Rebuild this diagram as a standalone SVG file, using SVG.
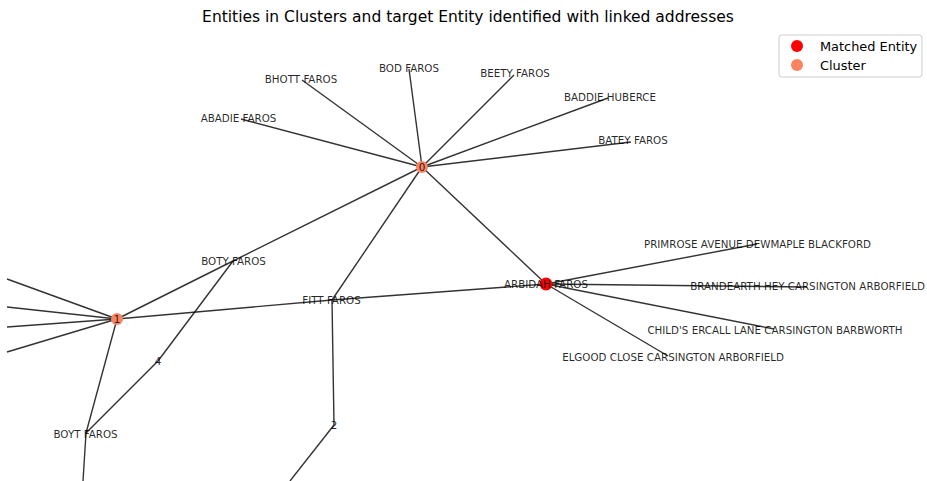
<svg xmlns="http://www.w3.org/2000/svg" width="927" height="481" viewBox="0 0 927 481">
  <style>
    .edge { stroke: #000; stroke-opacity: 0.8; stroke-width: 1.4; fill: none; }
    .lbl { font-family: "DejaVu Sans", sans-serif; font-size: 10.3px; fill: #000; fill-opacity: 0.85; text-anchor: middle; }
    .title { font-family: "DejaVu Sans", sans-serif; font-size: 15.5px; fill: #000; text-anchor: middle; }
    .leg { font-family: "DejaVu Sans", sans-serif; font-size: 12.9px; fill: #000; }
    .cluster { fill: #FA8460; }
    .matched { fill: #FF0000; }
  </style>
  <rect width="927" height="481" fill="#fff"/>
  <text class="title" x="468" y="21.5">Entities in Clusters and target Entity identified with linked addresses</text>

  <g id="edges">
    <!-- cluster 0 -->
    <line class="edge" x1="422" y1="167" x2="302" y2="80"/>
    <line class="edge" x1="422" y1="167" x2="409" y2="69"/>
    <line class="edge" x1="422" y1="167" x2="514" y2="75"/>
    <line class="edge" x1="422" y1="167" x2="608" y2="98"/>
    <line class="edge" x1="422" y1="167" x2="631" y2="142"/>
    <line class="edge" x1="422" y1="167" x2="241" y2="119"/>
    <line class="edge" x1="422" y1="167" x2="233" y2="261"/>
    <line class="edge" x1="422" y1="167" x2="332" y2="300"/>
    <line class="edge" x1="422" y1="167" x2="546" y2="284"/>
    <!-- cluster 1 -->
    <line class="edge" x1="117" y1="319" x2="233" y2="261"/>
    <line class="edge" x1="117" y1="319" x2="332" y2="300"/>
    <line class="edge" x1="117" y1="319" x2="86" y2="433"/>
    <line class="edge" x1="117" y1="319" x2="7" y2="279"/>
    <line class="edge" x1="117" y1="319" x2="7" y2="307"/>
    <line class="edge" x1="117" y1="319" x2="7" y2="327"/>
    <line class="edge" x1="117" y1="319" x2="7" y2="352"/>
    <!-- lower chains -->
    <line class="edge" x1="233" y1="261" x2="158" y2="361"/>
    <line class="edge" x1="158" y1="361" x2="86" y2="433"/>
    <line class="edge" x1="86" y1="433" x2="83" y2="481"/>
    <line class="edge" x1="332" y1="300" x2="334" y2="425"/>
    <line class="edge" x1="334" y1="425" x2="290" y2="481"/>
    <line class="edge" x1="332" y1="300" x2="546" y2="284"/>
    <!-- matched entity addresses -->
    <line class="edge" x1="546" y1="284" x2="757" y2="244"/>
    <line class="edge" x1="546" y1="284" x2="807" y2="287"/>
    <line class="edge" x1="546" y1="284" x2="774" y2="329"/>
    <line class="edge" x1="546" y1="284" x2="668" y2="356"/>
  </g>

  <g id="node-0">
    <circle class="cluster" cx="422" cy="167" r="6"/>
    <text class="lbl" x="422" y="170.5">0</text>
  </g>
  <g id="node-1">
    <circle class="cluster" cx="117" cy="319" r="6"/>
    <text class="lbl" x="117" y="322.5">1</text>
  </g>
  <g id="node-2"><text class="lbl" x="334" y="428.5">2</text></g>
  <g id="node-4"><text class="lbl" x="158" y="364.5">4</text></g>
  <g id="node-arbidah">
    <circle class="matched" cx="546" cy="284" r="6.5"/>
    <text class="lbl" x="546" y="287.5">ARBIDAH FAROS</text>
  </g>
  <g id="node-bhott"><text class="lbl" x="301" y="82.5">BHOTT FAROS</text></g>
  <g id="node-bod"><text class="lbl" x="409" y="71.5">BOD FAROS</text></g>
  <g id="node-beety"><text class="lbl" x="515" y="76.5">BEETY FAROS</text></g>
  <g id="node-baddie"><text class="lbl" x="610" y="100.5">BADDIE HUBERCE</text></g>
  <g id="node-batey"><text class="lbl" x="633" y="143.5">BATEY FAROS</text></g>
  <g id="node-abadie"><text class="lbl" x="238.5" y="121.5">ABADIE FAROS</text></g>
  <g id="node-boty"><text class="lbl" x="233.5" y="264.5">BOTY FAROS</text></g>
  <g id="node-fitt"><text class="lbl" x="331.5" y="303.5">FITT FAROS</text></g>
  <g id="node-boyt"><text class="lbl" x="85.5" y="437.5">BOYT FAROS</text></g>
  <g id="node-primrose"><text class="lbl" x="757.5" y="247.5">PRIMROSE AVENUE DEWMAPLE BLACKFORD</text></g>
  <g id="node-brandearth"><text class="lbl" x="807.5" y="289.5">BRANDEARTH HEY CARSINGTON ARBORFIELD</text></g>
  <g id="node-childs"><text class="lbl" x="775" y="333.5">CHILD'S ERCALL LANE CARSINGTON BARBWORTH</text></g>
  <g id="node-elgood"><text class="lbl" x="673" y="360.5">ELGOOD CLOSE CARSINGTON ARBORFIELD</text></g>

  <g id="legend">
    <rect x="779" y="35" width="143" height="42" rx="3" fill="#fff" fill-opacity="0.8" stroke="#ccc" stroke-width="1"/>
    <circle class="matched" cx="797" cy="46" r="6"/>
    <text class="leg" x="820" y="50.5">Matched Entity</text>
    <circle class="cluster" cx="797" cy="65" r="6"/>
    <text class="leg" x="820" y="69.5">Cluster</text>
  </g>
</svg>
